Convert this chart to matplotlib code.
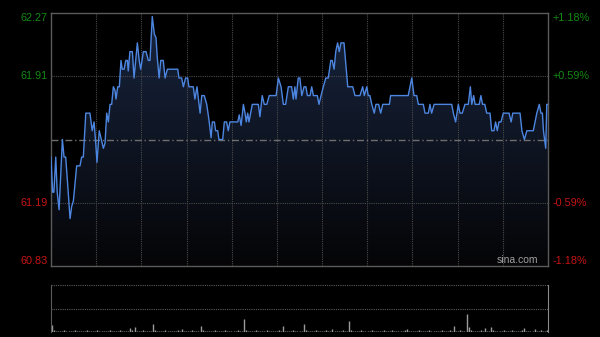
"""intraday price chart, sina style

Draws the one-day minute chart (price line with gradient fill and a
small volume panel below) on a black background and saves it to out.png
"""
import numpy as np
import matplotlib
matplotlib.use("Agg")
from matplotlib import pyplot as plt
from matplotlib.colors import LinearSegmentedColormap
from matplotlib.patches import Polygon
from matplotlib import transforms

plt.rcParams['font.family'] = ['Liberation Sans', 'DejaVu Sans']

# minutes since open (0..240) where the price line turns
times = [
    0.0, 0.8, 1.4, 2.3, 3.0, 3.9, 4.7, 5.5, 6.3, 7.1,
    7.9, 9.2, 10.0, 10.8, 12.4, 14.0, 14.8, 15.6, 16.8, 18.8,
    19.9, 20.8, 21.6, 22.2, 23.3, 24.5, 25.3, 26.1, 26.9, 27.7,
    28.5, 29.3, 30.1, 30.9, 31.4, 32.2, 33.0, 33.8, 34.4, 35.3,
    36.1, 36.9, 37.3, 38.1, 39.3, 40.1, 41.7, 42.6, 43.3, 44.6,
    45.9, 47.0, 47.8, 48.9, 49.9, 50.7, 51.3, 52.2, 53.0, 54.2,
    55.1, 56.2, 59.9,
    61.2, 61.8, 63.1, 63.9, 65.0, 66.0, 66.6, 68.7, 69.5, 70.5,
    72.0, 72.8, 74.0, 75.2, 76.3, 77.3, 77.9, 78.9, 79.5, 80.5,
    81.1, 82.9, 83.7, 84.8, 85.6, 86.4, 90.2, 90.9, 91.8, 92.9,
    93.7, 94.3, 95.0, 95.6, 97.2, 99.3, 100.1, 100.9, 102.0, 103.0,
    104.2, 105.4, 108.7, 109.8, 111.1, 112.2, 113.3, 114.6, 116.2, 117.0,
    117.8, 118.3, 119.4, 120.2,
    121.1, 122.2, 123.1, 123.8, 125.1, 125.9, 126.7, 128.6, 129.4, 130.4,
    131.5, 132.7, 133.9, 135.1, 135.8, 136.7, 137.5, 138.4, 139.2, 140.0,
    141.5, 143.3, 145.7, 146.8, 149.2, 150.5, 151.3, 152.5, 153.2, 154.0,
    154.9, 156.1, 156.9, 158.2, 159.2, 160.2, 163.4, 164.0, 172.5, 174.2,
    175.3, 176.6, 177.4, 179.8, 180.6,
    182.2, 183.0, 183.8, 185.0, 193.5, 194.3, 195.4, 196.7, 197.5, 198.6,
    199.9, 201.5, 202.5, 203.2, 204.1, 204.8, 206.8, 207.6, 208.4, 209.5,
    210.4, 212.0, 212.8, 213.9, 214.7, 215.5, 216.3, 217.3, 218.4, 221.2,
    222.2, 223.0, 226.5, 227.4, 228.6, 229.8, 232.9, 234.6, 235.8, 236.6,
    237.3, 237.8, 238.9, 239.4, 240.0,
]

prices = [
    61.45, 61.25, 61.25, 61.45, 61.25, 61.15, 61.35, 61.55, 61.45, 61.45,
    61.32, 61.10, 61.17, 61.20, 61.40, 61.40, 61.45, 61.45, 61.70, 61.70,
    61.60, 61.65, 61.53, 61.42, 61.60, 61.54, 61.50, 61.53, 61.70, 61.65,
    61.75, 61.75, 61.85, 61.83, 61.78, 61.85, 61.85, 62.00, 61.95, 61.95,
    62.00, 62.00, 61.94, 62.05, 62.05, 61.90, 62.10, 62.00, 61.95, 62.05,
    62.05, 62.00, 62.00, 62.25, 62.15, 62.13, 62.02, 61.90, 62.00, 62.00,
    61.90, 61.95, 61.95,
    61.95, 61.90, 61.90, 61.85, 61.90, 61.90, 61.85, 61.85, 61.78, 61.85,
    61.70, 61.80, 61.80, 61.75, 61.66, 61.56, 61.65, 61.65, 61.60, 61.60,
    61.55, 61.55, 61.65, 61.65, 61.60, 61.65, 61.65, 61.69, 61.63, 61.75,
    61.70, 61.65, 61.70, 61.65, 61.75, 61.75, 61.75, 61.68, 61.80, 61.75,
    61.75, 61.80, 61.80, 61.90, 61.85, 61.75, 61.75, 61.85, 61.85, 61.78,
    61.85, 61.78, 61.90, 61.90,
    61.80, 61.85, 61.85, 61.80, 61.80, 61.85, 61.80, 61.80, 61.75, 61.80,
    61.85, 61.90, 61.90, 62.00, 62.00, 61.95, 62.05, 62.10, 62.05, 62.10,
    62.10, 61.85, 61.85, 61.80, 61.80, 61.85, 61.80, 61.85, 61.80, 61.80,
    61.75, 61.70, 61.75, 61.75, 61.70, 61.75, 61.75, 61.80, 61.80, 61.90,
    61.80, 61.80, 61.75, 61.75, 61.70,
    61.70, 61.75, 61.70, 61.75, 61.75, 61.70, 61.65, 61.75, 61.70, 61.70,
    61.75, 61.75, 61.85, 61.75, 61.80, 61.75, 61.75, 61.80, 61.75, 61.75,
    61.70, 61.70, 61.60, 61.60, 61.65, 61.60, 61.65, 61.65, 61.70, 61.70,
    61.65, 61.70, 61.70, 61.60, 61.55, 61.60, 61.60, 61.70, 61.75, 61.70,
    61.70, 61.60, 61.50, 61.75, 61.75,
]

# volume per minute, relative units (panel top = 100)
volume = [
    15, 4, 3, 3, 2, 3, 4, 2, 3, 3, 2, 4, 3, 2, 3, 3, 2, 4, 3, 3,
    2, 3, 4, 3, 2, 3, 3, 2, 4, 3, 3, 2, 3, 4, 3, 2, 3, 3, 9, 4,
    11, 3, 2, 3, 4, 3, 2, 3, 3, 17, 4, 3, 2, 3, 3, 4, 2, 3, 3, 2,
    3, 4, 3, 7, 3, 2, 3, 3, 4, 2, 3, 3, 13, 4, 3, 2, 3, 3, 2, 4,
    3, 2, 3, 3, 4, 3, 2, 3, 3, 2, 4, 3, 3, 27, 5, 3, 2, 3, 3, 4,
    2, 3, 3, 2, 4, 3, 3, 2, 3, 3, 4, 3, 13, 3, 2, 3, 3, 4, 2, 3,
    3, 2, 17, 4, 3, 3, 2, 3, 4, 3, 2, 3, 3, 4, 3, 2, 6, 3, 3, 2,
    3, 4, 3, 2, 23, 5, 3, 3, 2, 3, 4, 3, 2, 3, 3, 4, 2, 3, 3, 2,
    3, 4, 3, 2, 3, 4, 3, 2, 3, 3, 2, 4, 6, 3, 2, 3, 3, 2, 4, 3,
    3, 2, 3, 4, 3, 3, 2, 3, 3, 4, 2, 3, 3, 4, 3, 13, 3, 2, 4, 3,
    3, 38, 11, 4, 3, 2, 3, 3, 4, 3, 9, 3, 2, 11, 4, 3, 2, 3, 3, 4,
    3, 2, 3, 4, 3, 3, 2, 3, 4, 8, 3, 2, 3, 3, 6, 3, 2, 4, 3, 3,
    5,
]

y_min, y_max = 60.83, 62.27
prev_close = 61.55
left_labels = ["62.27", "61.91", "61.19", "60.83"]
right_labels = ["+1.18%", "+0.59%", "-0.59%", "-1.18%"]
label_levels = [62.27, 61.91, 61.19, 60.83]

GREEN = "#138a13"
RED = "#c81414"
GRID = "#4a4a4a"
FRAME = "#5a5a5a"


def draw_price(ax):
    """price line, gradient fill, grids and labels"""
    ax.set_facecolor("black")
    ax.set_xlim(0, 240)
    ax.set_ylim(y_min, y_max)

    cmap = LinearSegmentedColormap.from_list("fill", ["#050507", "#18253f"])
    grad = np.linspace(1, 0, 256).reshape(-1, 1)
    im = ax.imshow(grad, extent=[0, 240, y_min, y_max], aspect="auto",
                   cmap=cmap, origin="upper", zorder=1)
    verts = [(times[0], y_min)] + list(zip(times, prices)) + \
        [(times[-1], y_min)]
    poly = Polygon(verts, closed=True, facecolor="none", edgecolor="none")
    ax.add_patch(poly)
    im.set_clip_path(poly)

    # 11 equal time slots
    for k in range(1, 11):
        ax.axvline(240 * k / 11, color=GRID, lw=0.8, ls=(0, (1, 1)),
                   zorder=2)
    for lvl in (61.91, 61.19):
        ax.axhline(lvl, color=GRID, lw=0.8, ls=(0, (1, 1)), zorder=2)
    ax.axhline(prev_close, color="#6e6e6e", lw=1.0, ls=(0, (5, 2, 1, 2)),
               zorder=2)

    ax.plot(times, prices, color="#4d86e0", lw=1.0, zorder=3)

    ax.set_xticks([])
    ax.set_yticks([])
    for side in ax.spines.values():
        side.set_color(FRAME)
        side.set_linewidth(1.0)

    trans = transforms.blended_transform_factory(ax.transAxes, ax.transData)
    vas = ["top", "center", "center", "bottom"]
    for i, lvl in enumerate(label_levels):
        col = GREEN if lvl > prev_close else RED
        ax.text(-0.007, lvl, left_labels[i], color=col, fontsize=7.8,
                ha="right", va=vas[i], transform=trans)
        ax.text(1.01, lvl, right_labels[i], color=col, fontsize=7.8,
                ha="left", va=vas[i], transform=trans)

    ax.text(0.98, 0.004, "sina.com", color="#a0a0a0", fontsize=7.5,
            ha="right", va="bottom", transform=ax.transAxes, zorder=4)


def draw_volume(ax):
    """small volume panel"""
    ax.set_facecolor("black")
    minutes = np.arange(len(volume))
    ax.vlines(minutes, 0, volume, color="#9a9a9a", lw=1.0)
    ax.set_xlim(-0.5, 240.5)
    ax.set_ylim(0, 100)
    for lvl in (50, 100):
        ax.axhline(lvl, color="#5a5a5a", lw=0.8, ls=(0, (1, 1)),
                   clip_on=False)
    ax.set_xticks([])
    ax.set_yticks([])
    ax.spines["top"].set_visible(False)
    ax.spines["bottom"].set_visible(False)
    ax.spines["left"].set_color(FRAME)
    ax.spines["right"].set_color("#8a8a8a")


def main():
    """build the figure and save it"""
    fig = plt.figure(figsize=(6, 3.37), dpi=100, facecolor="black")
    ax = fig.add_axes([51 / 600, 1 - 266 / 337, 497 / 600, 253 / 337])
    vax = fig.add_axes([51 / 600, 1 - 332 / 337, 497 / 600, 47 / 337])
    draw_price(ax)
    draw_volume(vax)
    fig.savefig("out.png", dpi=100, facecolor="black")


if __name__ == '__main__':
    main()
